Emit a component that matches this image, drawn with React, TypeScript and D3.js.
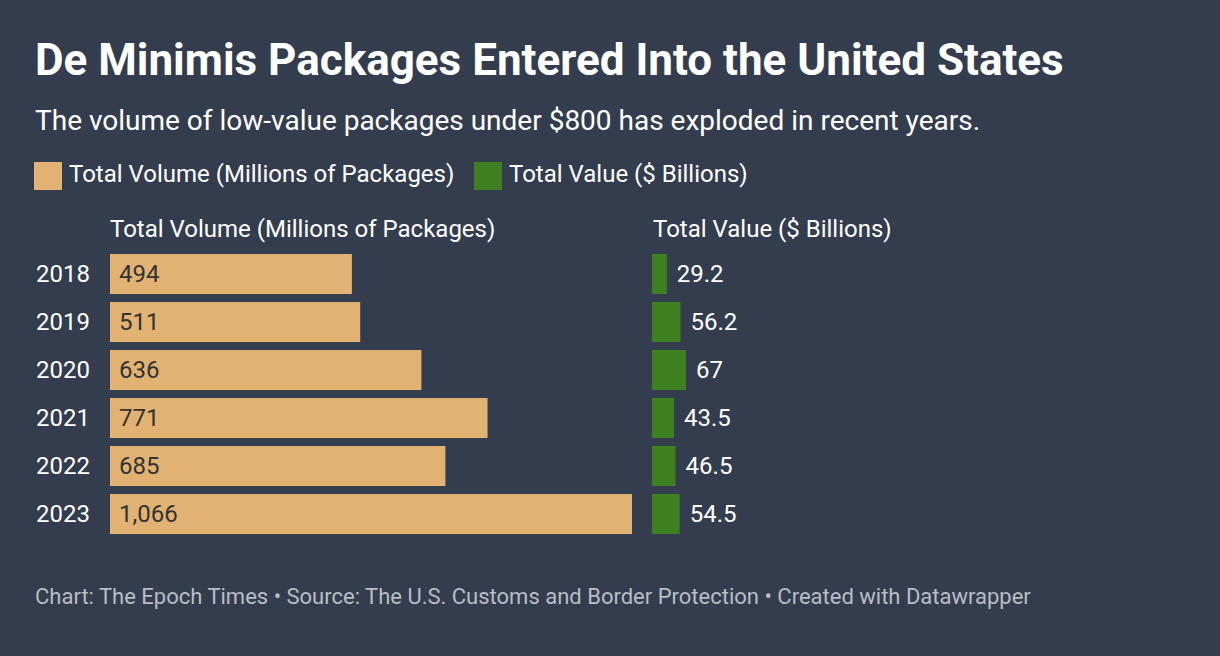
import React from "react";
import * as d3 from "d3";

const years = ["2018", "2019", "2020", "2021", "2022", "2023"];
const volume = [494, 511, 636, 771, 685, 1066];
const value = [29.2, 56.2, 67, 43.5, 46.5, 54.5];
const volumeLabels = ["494", "511", "636", "771", "685", "1,066"];
const valueLabels = ["29.2", "56.2", "67", "43.5", "46.5", "54.5"];

const title = "De Minimis Packages Entered Into the United States";
const subtitle = "The volume of low-value packages under $800 has exploded in recent years.";
const seriesNames = ["Total Volume (Millions of Packages)", "Total Value ($ Billions)"];
const footer = "Chart: The Epoch Times • Source: The U.S. Customs and Border Protection • Created with Datawrapper";

const W = 1220;
const H = 656;
const BG = "#333d4e";
const TAN = "#e1b272";
const GREEN = "#3e7f20";
const FONT = "Roboto, 'Noto Sans', sans-serif";

export default function App() {
  const y = d3
    .scaleBand<string>()
    .domain(years)
    .range([254, 254 + 6 * 48 - 8])
    .paddingInner(8 / 48)
    .paddingOuter(0);
  const xVol = d3.scaleLinear().domain([0, 1066]).range([110, 632]);
  const xVal = d3.scaleLinear().domain([0, 67]).range([652, 686]);

  return (
    <svg
      width={W}
      height={H}
      style={{ position: "absolute", left: 0, top: 0, display: "block" }}
      fontFamily={FONT}
    >
      <rect width={W} height={H} fill={BG} />
      <text x={35} y={75} fill="#ffffff" fontSize={44} fontWeight={700}>
        {title}
      </text>
      <text x={35} y={130} fill="#ffffff" fontSize={28}>
        {subtitle}
      </text>
      {/* legend */}
      <rect x={34} y={162} width={28} height={28} fill={TAN} />
      <text x={69} y={182} fill="#ffffff" fontSize={24}>
        {seriesNames[0]}
      </text>
      <rect x={474} y={162} width={28} height={28} fill={GREEN} />
      <text x={509} y={182} fill="#ffffff" fontSize={24}>
        {seriesNames[1]}
      </text>
      {/* column headers */}
      <text x={110} y={237} fill="#ffffff" fontSize={24}>
        {seriesNames[0]}
      </text>
      <text x={653} y={237} fill="#ffffff" fontSize={24}>
        {seriesNames[1]}
      </text>
      {years.map((yr, i) => {
        const by = y(yr) as number;
        const bh = y.bandwidth();
        return (
          <g key={yr}>
            <text x={36} y={by + 28} fill="#ffffff" fontSize={24}>
              {yr}
            </text>
            <rect x={xVol(0)} y={by} width={xVol(volume[i]) - xVol(0)} height={bh} fill={TAN} />
            <text x={xVol(0) + 9} y={by + 28} fill="#333333" fontSize={24}>
              {volumeLabels[i]}
            </text>
            <rect x={xVal(0)} y={by} width={xVal(value[i]) - xVal(0)} height={bh} fill={GREEN} />
            <text x={xVal(value[i]) + 10} y={by + 28} fill="#ffffff" fontSize={24}>
              {valueLabels[i]}
            </text>
          </g>
        );
      })}
      <text x={35} y={604} fill="#b9bdc4" fontSize={22}>
        {footer}
      </text>
    </svg>
  );
}
